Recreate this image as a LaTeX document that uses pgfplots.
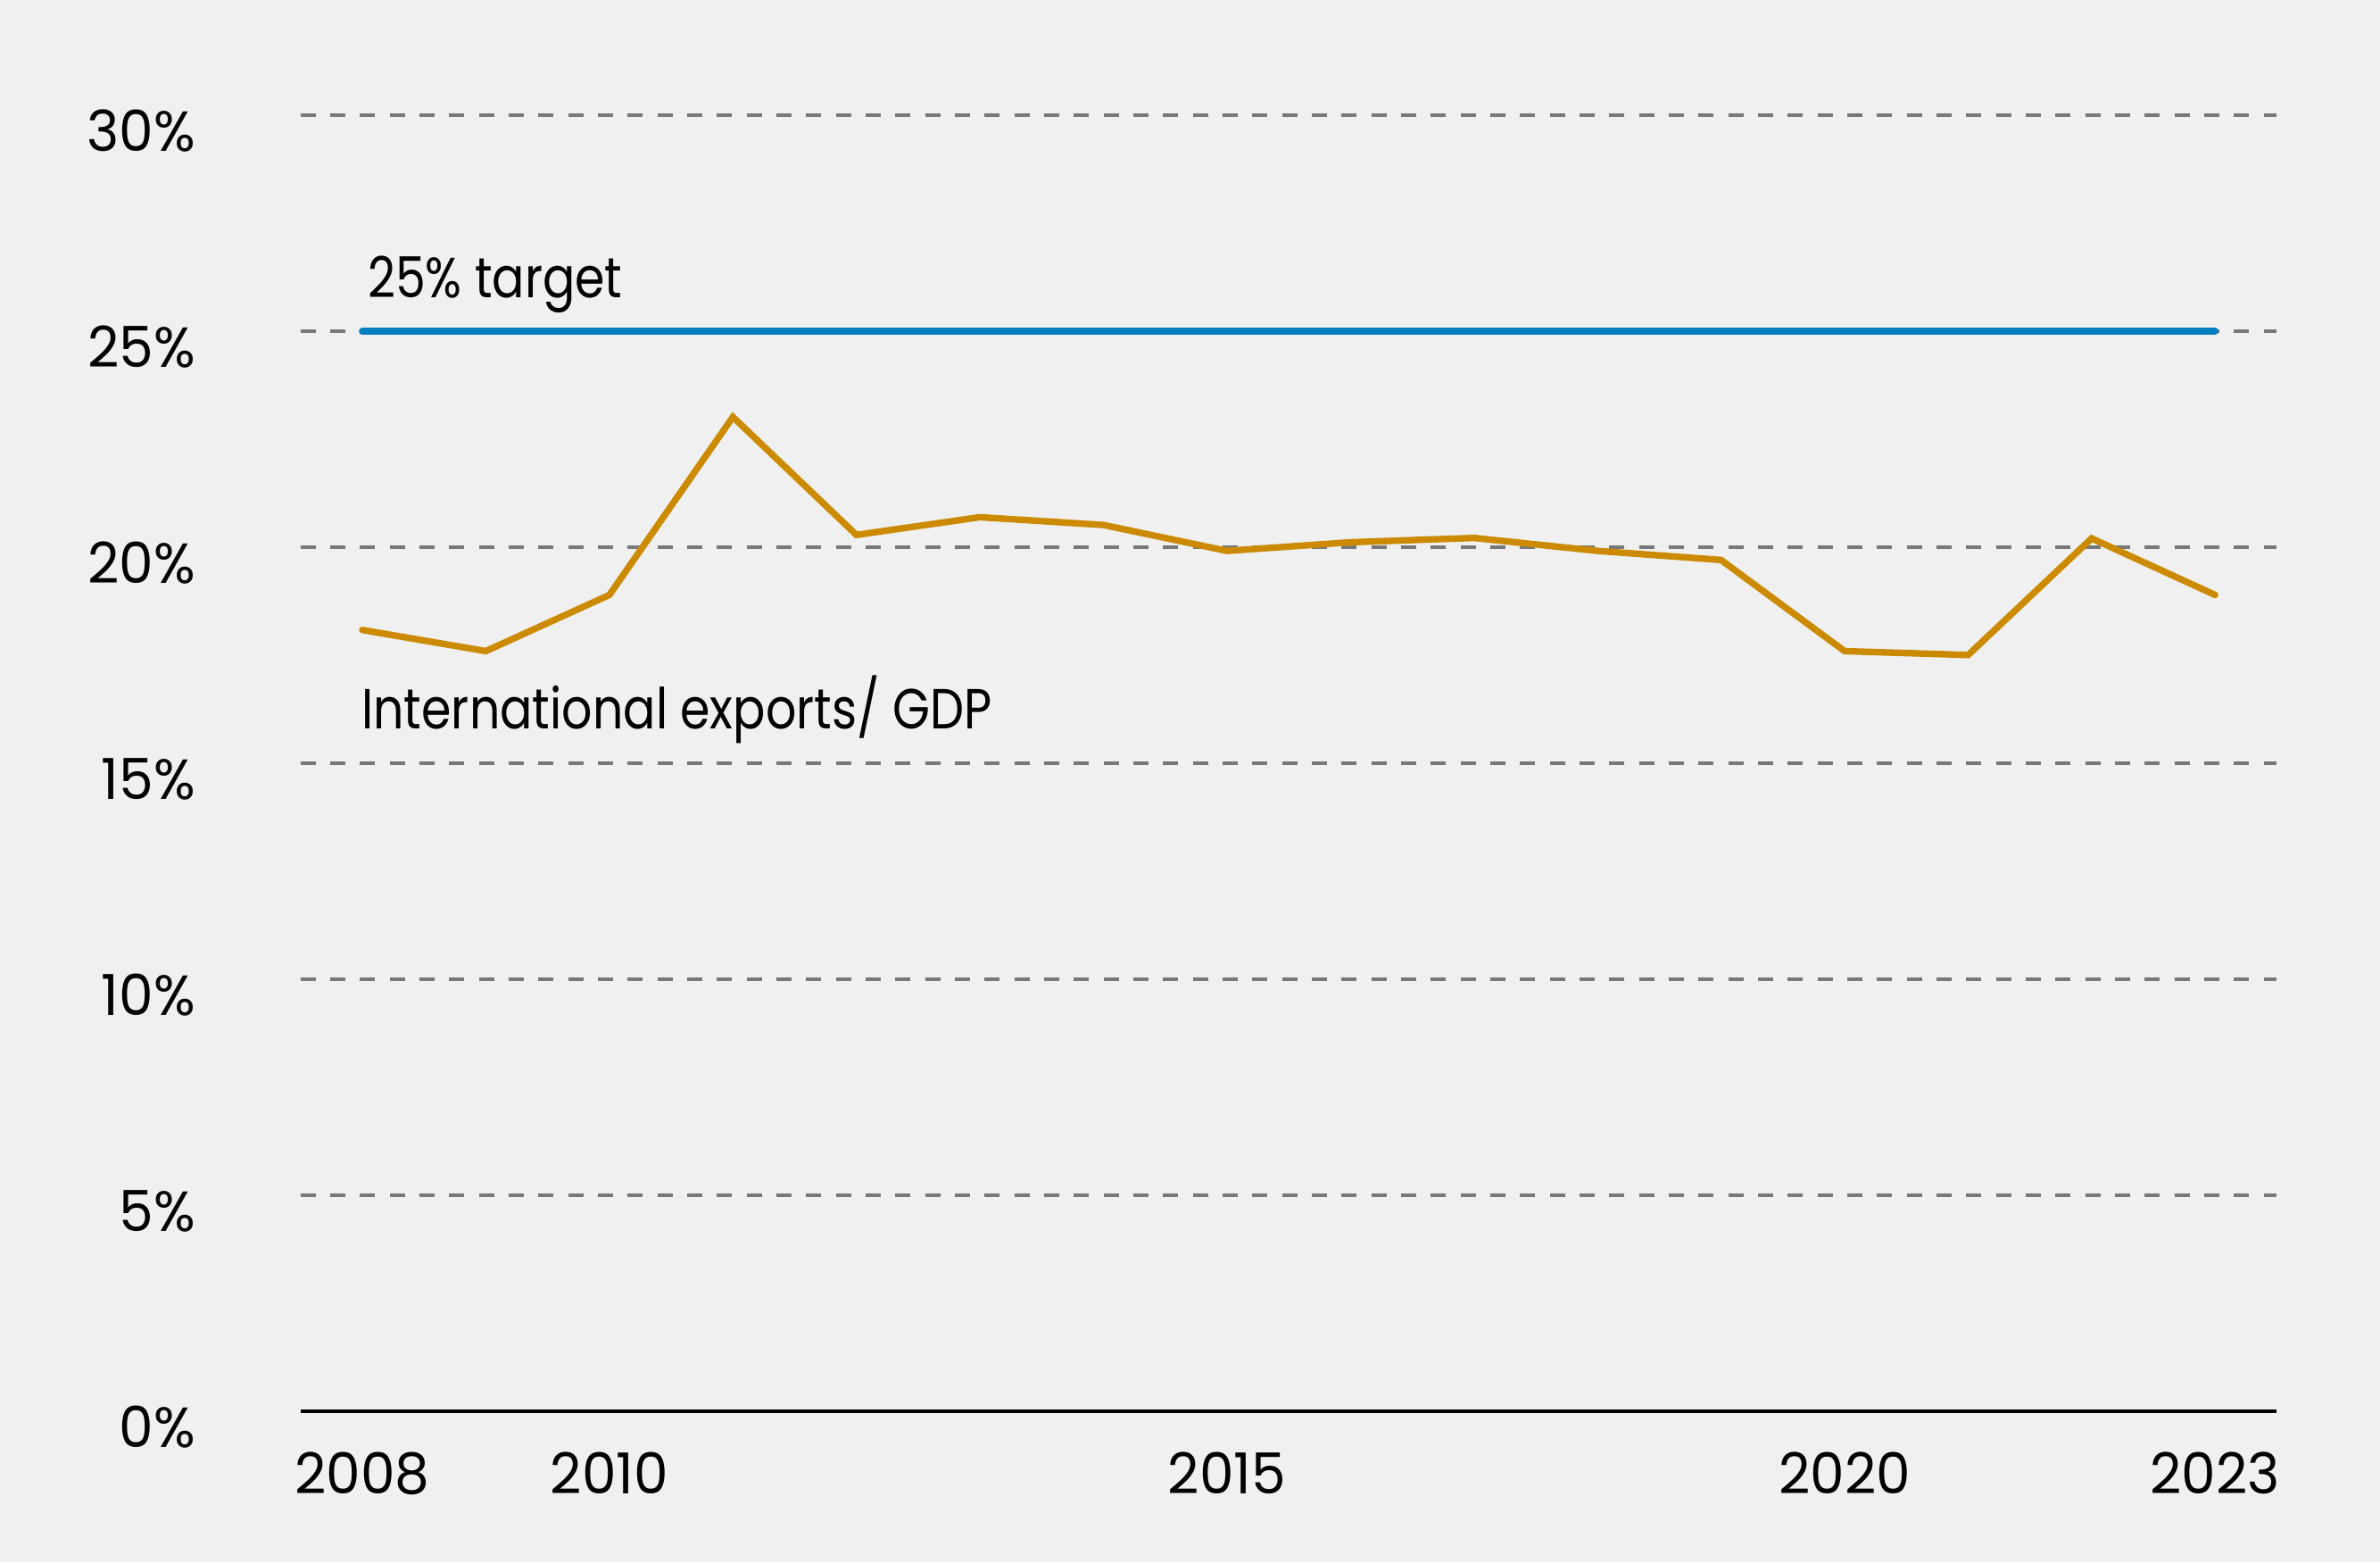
\documentclass[border=0pt]{standalone}
\usepackage{fontspec}
\setmainfont[FakeStretch=0.85]{Poppins}
\newfontfamily\tickfam[FakeStretch=0.97]{Poppins}
\usepackage{pgfplots}
\pgfplotsset{compat=1.18}
\definecolor{bg}{RGB}{239,240,239}
\definecolor{gridc}{RGB}{118,120,122}
\definecolor{blueline}{RGB}{0,128,192}
\definecolor{orangeline}{RGB}{204,138,0}
\newcommand{\chartfont}{\fontsize{19pt}{23pt}\selectfont}
\newcommand{\tickfont}{\tickfam\fontsize{19pt}{23pt}\selectfont}
\begin{document}
\chartfont
\begin{tikzpicture}
\fill[bg] (-101.04pt,-50.61pt) rectangle (699.06pt,474.39pt);
\useasboundingbox (-101.04pt,-50.61pt) rectangle (699.06pt,474.39pt);
\begin{axis}[
  at={(0pt,0pt)}, anchor=south west,
  scale only axis, width=664.4pt, height=435.6pt,
  xmin=2007.5, xmax=2023.5, ymin=0, ymax=30,
  axis line style={draw=none},
  major tick length=0pt,
  xtick={2008,2010,2015,2020,2023},
  xticklabels={2008,2010,2015,2020,2023},
  ytick={0,5,10,15,20,25,30},
  yticklabels={0\%,5\%,10\%,15\%,20\%,25\%,30\%},
  ymajorgrids,
  grid style={gridc, line width=1.1pt, dash pattern=on 5.1pt off 4.9pt},
  xticklabel style={font=\tickfont, anchor=base, inner sep=0pt, yshift=-27.6pt},
  yticklabel style={font=\tickfont, anchor=base east, inner sep=0pt, xshift=-35.2pt, yshift=-12.2pt},
  clip=false,
]
\addplot[orangeline, line width=2.2pt, line cap=round, line join=miter] coordinates {
(2008,18.09) (2009,17.60) (2010,18.90) (2011,23.02) (2012,20.29) (2013,20.70)
(2014,20.52) (2015,19.92) (2016,20.12) (2017,20.22) (2018,19.92) (2019,19.71)
(2020,17.60) (2021,17.51) (2022,20.21) (2023,18.90)
};
\addplot[blueline, line width=2.3pt, line cap=round] coordinates {(2008,25) (2023,25)};
\draw[black, line width=1.2pt] (rel axis cs:0,0) -- (rel axis cs:1,0);
\node[anchor=base west, inner sep=0pt, font=\chartfont] at (axis cs:2008.04,25.79) {25\% target};
\node[anchor=base west, inner sep=0pt, font=\chartfont] at (axis cs:2007.99,15.80) {International exports/ GDP};
\end{axis}
\end{tikzpicture}
\end{document}
